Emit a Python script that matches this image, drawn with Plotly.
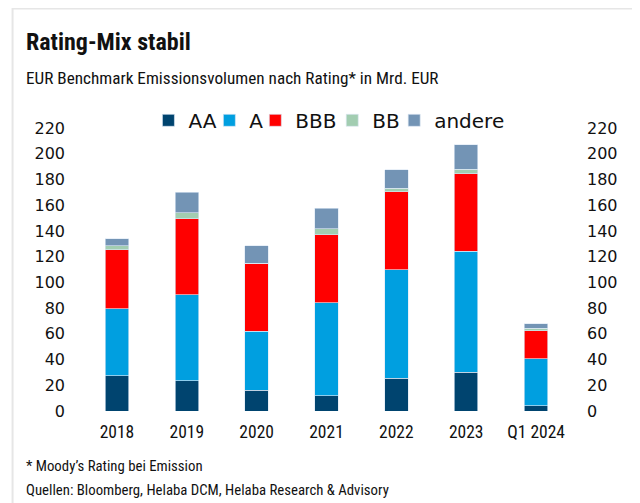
import plotly.graph_objects as go

categories = ["2018", "2019", "2020", "2021", "2022", "2023", "Q1 2024"]
aa = [27.5, 23.5, 16, 12, 25.5, 30, 4]
a = [52, 67, 46, 72, 84.5, 94, 36.5]
bbb = [46, 59, 52.5, 53, 60.5, 60.5, 22]
bb = [3, 4.5, 0.5, 4.5, 2.5, 3.5, 2]
andere = [5.5, 16, 13.5, 16, 14.5, 19, 3.5]
yticks = [0, 20, 40, 60, 80, 100, 120, 140, 160, 180, 200, 220]

series = [
    ("AA", aa, "#00446f"),
    ("A", a, "#009fe0"),
    ("BBB", bbb, "#ff0000"),
    ("BB", bb, "#a2cdb1"),
    ("andere", andere, "#7394b5"),
]
# screen x of each legend entry box
legend_x = [148, 209, 255, 332, 394]

# page body has an 8px margin; work in screen pixels and convert
OFF = 8
W, H = 640 - OFF, 503 - OFF
L, R, T, B = 81.5 - OFF, 571 - OFF, 127.7 - OFF, 411 - OFF
PW, PH = R - L, B - T


def px(x):
    return (x - OFF - L) / PW


def py(y):
    return (B - (y - OFF)) / PH


COND = "Roboto Condensed, Roboto, sans-serif"
DEJAVU = "DejaVu Sans, sans-serif"
TXT = "#111111"

fig = go.Figure()
for i, (name, vals, col) in enumerate(series):
    lg = "legend" if i == 0 else f"legend{i + 1}"
    fig.add_trace(go.Bar(
        x=categories, y=vals, name=name, legend=lg,
        marker=dict(color=col, line=dict(color="rgba(220,232,244,0.8)", width=0.8)),
    ))
    fig.update_layout({lg: dict(
        orientation="h", x=px(legend_x[i]), y=py(120), xanchor="left", yanchor="middle",
        font=dict(family=DEJAVU, size=20, color=TXT),
        itemclick=False, itemdoubleclick=False, bgcolor="rgba(0,0,0,0)", borderwidth=0)})

fig.add_trace(go.Bar(x=categories, y=[0] * len(categories), yaxis="y2", showlegend=False,
                     hoverinfo="skip", marker=dict(color="rgba(0,0,0,0)")))

fig.update_layout(
    width=W, height=H,
    barmode="stack", bargap=0.664,
    paper_bgcolor="white", plot_bgcolor="white",
    margin=dict(l=L, r=W - R, t=T, b=H - B, pad=0, autoexpand=False),
    showlegend=True,
    xaxis=dict(showgrid=False, showline=False, zeroline=False, ticks="",
               tickfont=dict(family=COND, size=17.5, color=TXT),
               ticklabelstandoff=8),
    yaxis=dict(range=[0, 220], tickvals=yticks, showgrid=False, showline=False, zeroline=False,
               ticks="", tickfont=dict(family=DEJAVU, size=16, color=TXT),
               ticklabelstandoff=16),
    yaxis2=dict(range=[0, 220], tickvals=yticks, overlaying="y", side="right", matches="y",
                showgrid=False, showline=False, zeroline=False, ticks="",
                tickfont=dict(family=DEJAVU, size=16, color=TXT),
                ticklabelstandoff=15),
)

annots = [
    ("Rating-Mix stabil", 23, 41.5, 24, True),
    ("EUR Benchmark Emissionsvolumen nach Rating* in Mrd. EUR", 23, 77.5, 17.2, False),
    ("* Moody’s Rating bei Emission", 23, 466, 14.8, False),
    ("Quellen: Bloomberg, Helaba DCM, Helaba Research &amp; Advisory", 23, 490, 14.8, False),
]
for text, x, y, size, bold in annots:
    fig.add_annotation(
        text=f"<b>{text}</b>" if bold else text,
        xref="paper", yref="paper", x=px(x), y=py(y), xanchor="left", yanchor="middle",
        showarrow=False, font=dict(family=COND, size=size, color=TXT),
    )

fig.add_shape(type="rect", xref="paper", yref="paper",
              x0=px(12), x1=px(638), y0=py(530), y1=py(8),
              line=dict(color="#e6e6e6", width=2), fillcolor="rgba(0,0,0,0)", layer="below")

fig.write_html("out.html")
